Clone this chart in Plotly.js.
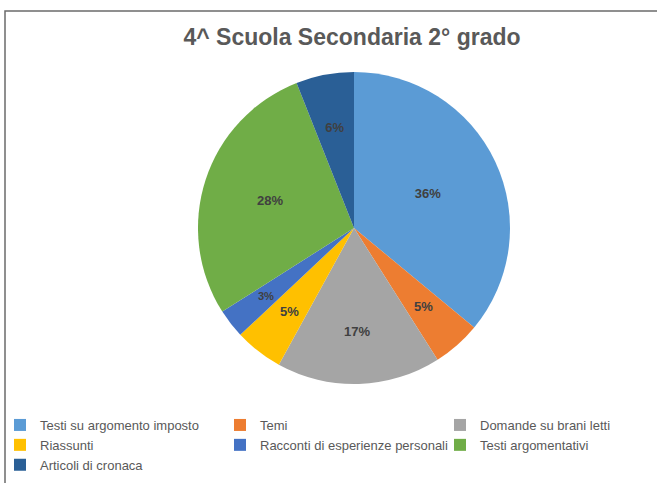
<!DOCTYPE html>
<html>
<head>
<meta charset="utf-8">
<script src="https://cdn.plot.ly/plotly-3.0.1.min.js"></script>
<style>html,body{margin:0;padding:0;background:#fff;}#chart{width:657px;height:483px;}</style>
</head>
<body>
<div id="chart"></div>
<script>
var categories = ["Testi su argomento imposto", "Temi", "Domande su brani letti", "Riassunti", "Racconti di esperienze personali", "Testi argomentativi", "Articoli di cronaca"];
var values = [36, 5, 17, 5, 3, 28, 6];
var sliceColors = ["#5b9bd5", "#ed7d31", "#a5a5a5", "#ffc000", "#4472c4", "#70ad47", "#2a5f96"];
var chartTitle = "4^ Scuola Secondaria 2° grado";

var W = 657, H = 483;
var cx = 354, cy = 228, r = 156;
var innerR = r * 0.78;   // label ring for narrow slices
var total = values.reduce(function (a, b) { return a + b; }, 0);
var isSmall = values.map(function (v) { return v / total < 0.1; });

var labelFont = {family: "Liberation Sans, Arial, sans-serif", size: 13, color: "#404040", weight: "bold"};

function dom(rad) {
  return {x: [(cx - rad) / W, (cx + rad) / W], y: [1 - (cy + rad) / H, 1 - (cy - rad) / H]};
}

var pieMain = {
  type: "pie",
  labels: categories,
  values: values,
  sort: false,
  direction: "clockwise",
  rotation: 0,
  marker: {colors: sliceColors, line: {width: 0}},
  texttemplate: isSmall.map(function (s) { return s ? "" : "%{percent:.0%}"; }),
  textposition: "inside",
  insidetextorientation: "horizontal",
  textfont: labelFont,
  domain: dom(r),
  hoverinfo: "label+percent"
};

var pieLabels = {
  type: "pie",
  labels: categories,
  values: values,
  sort: false,
  direction: "clockwise",
  rotation: 0,
  showlegend: false,
  marker: {colors: categories.map(function () { return "rgba(0,0,0,0)"; }), line: {width: 0}},
  texttemplate: isSmall.map(function (s) { return s ? "%{percent:.0%}" : ""; }),
  textposition: "inside",
  insidetextorientation: "horizontal",
  textfont: labelFont,
  domain: dom(innerR),
  hoverinfo: "skip"
};

var layout = {
  width: W, height: H,
  margin: {l: 0, r: 0, t: 0, b: 0, autoexpand: false},
  paper_bgcolor: "#ffffff",
  title: {
    text: "<b>" + chartTitle + "</b>",
    font: {family: "Liberation Sans, Arial, sans-serif", size: 23, color: "#595959"},
    x: 352 / W, xanchor: "center",
    y: 1 - 37 / H, yanchor: "middle"
  },
  showlegend: true,
  legend: {
    orientation: "h",
    x: 0, xanchor: "left",
    y: 1 - 410 / H, yanchor: "top",
    entrywidth: 175, entrywidthmode: "pixels",
    font: {family: "Liberation Sans, Arial, sans-serif", size: 13, color: "#595959"},
    traceorder: "normal",
    bgcolor: "rgba(0,0,0,0)"
  },
  shapes: [{
    type: "rect", xref: "paper", yref: "paper",
    x0: 5 / W, x1: 1.2, y0: -0.2, y1: 1 - 11 / H,
    line: {color: "#6b6b6b", width: 1.5}
  }]
};

Plotly.newPlot("chart", [pieMain, pieLabels], layout, {displayModeBar: false, staticPlot: true});
</script>
</body>
</html>
